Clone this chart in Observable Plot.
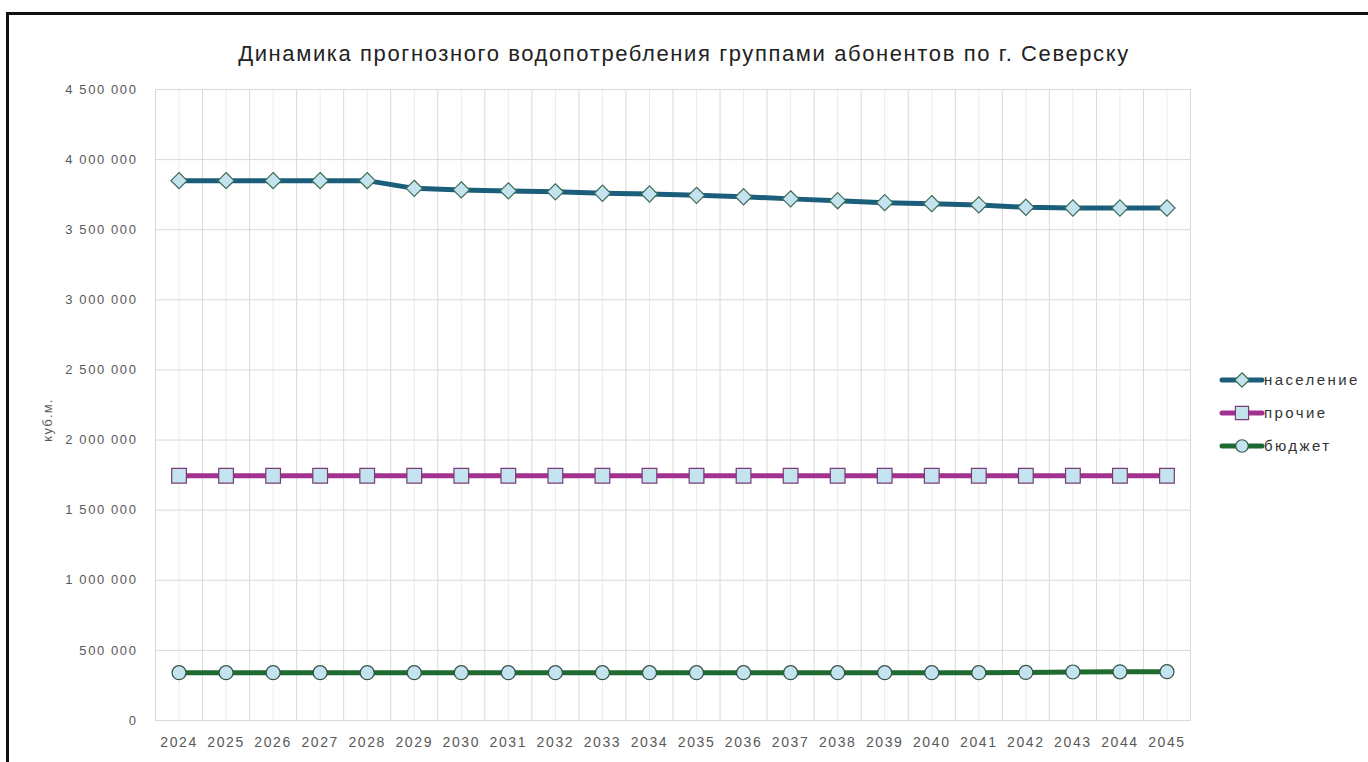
<!DOCTYPE html>
<html>
<head>
<meta charset="utf-8">
<script src="https://cdn.jsdelivr.net/npm/d3@7"></script>
<script src="https://cdn.jsdelivr.net/npm/@observablehq/plot@0.6"></script>
<style>
  html, body { margin: 0; padding: 0; background: #fff; overflow: hidden; }
  body { width: 1368px; height: 762px; position: relative; font-family: "Liberation Sans", Arial, sans-serif; }
  #frame { position: absolute; left: 6px; top: 12px; width: 1400px; height: 800px;
           border-top: 3px solid #111; border-left: 3px solid #111; box-sizing: border-box; }
  #title { position: absolute; top: 41px; left: 0; width: 1368px; text-align: center;
           font-size: 22px; letter-spacing: 1.6px; color: #222; }
  #chart { position: absolute; left: 0; top: 70px; }
  #legend { position: absolute; left: 1215px; top: 360px; }
  #ytitle { position: absolute; left: 47px; top: 420px; transform: translate(-50%, -50%) rotate(-90deg);
            font-size: 13px; letter-spacing: 1.2px; color: #595959; white-space: nowrap; }
</style>
</head>
<body>
<div id="frame"></div>
<div id="title">Динамика прогнозного водопотребления группами абонентов по г. Северску</div>
<div id="ytitle">куб.м.</div>
<div id="chart"></div>
<div id="legend"></div>
<script>
// ---- data ----
const years = [2024,2025,2026,2027,2028,2029,2030,2031,2032,2033,2034,2035,2036,2037,2038,2039,2040,2041,2042,2043,2044,2045];
const naselenie = [3850000,3850000,3850000,3850000,3850000,3795000,3784000,3777000,3770000,3760000,3755000,3745000,3735000,3720000,3707000,3693000,3686000,3677000,3660000,3655000,3655000,3655000];
const prochie = [1745000,1745000,1745000,1745000,1745000,1745000,1745000,1745000,1745000,1745000,1745000,1745000,1745000,1745000,1745000,1745000,1745000,1745000,1745000,1745000,1745000,1745000];
const byudzhet = [341000,341000,341000,341000,341000,341000,341000,341000,341000,341000,341000,341000,341000,341000,341000,341000,341000,341000,343000,346000,347000,348000];
const seriesNames = ["население", "прочие", "бюджет"];
const yTicks = [0,500000,1000000,1500000,2000000,2500000,3000000,3500000,4000000,4500000];

// ---- styles ----
const styles = {
  "население": {stroke: "#1b5e7b", symbol: "diamond2", r: 7.3, markStroke: "#3f6b58"},
  "прочие":    {stroke: "#a2318f", symbol: "square",   r: 8.3, markStroke: "#7b3a78"},
  "бюджет":    {stroke: "#1e6a30", symbol: "circle",   r: 7,   markStroke: "#35524a"}
};
const markerFill = "#c3e3ee";

const valuesBy = {"население": naselenie, "прочие": prochie, "бюджет": byudzhet};
const data = seriesNames.flatMap(s => years.map((yr, i) => ({series: s, year: yr, value: valuesBy[s][i]})));
const boundaries = years.map(y => y - 0.5).concat([years[years.length - 1] + 0.5]);

const fmt = d => d3.format(",")(d).replace(/,/g, " ");

const marks = [
  Plot.ruleX(years, {stroke: "#ececec", strokeWidth: 1}),
  Plot.ruleX(boundaries, {stroke: "#d9d9d9", strokeWidth: 1}),
  Plot.ruleY(yTicks, {stroke: "#d9d9d9", strokeWidth: 1}),
  Plot.frame({stroke: "#d9d9d9"}),
  Plot.axisY(yTicks, {tickSize: 0, tickPadding: 18, tickFormat: fmt, fontSize: 13, fill: "#595959", label: null}),
  Plot.axisX(years, {tickSize: 0, tickPadding: 17, tickFormat: d => String(d), fontSize: 14, fill: "#595959", label: null})
];
for (const s of seriesNames) {
  const st = styles[s];
  const d = data.filter(r => r.series === s);
  marks.push(Plot.line(d, {x: "year", y: "value", stroke: st.stroke, strokeWidth: 5, strokeLinejoin: "round"}));
}
for (const s of seriesNames) {
  const st = styles[s];
  const d = data.filter(r => r.series === s);
  marks.push(Plot.dot(d, {x: "year", y: "value", symbol: st.symbol, r: st.r, fill: markerFill, stroke: st.markStroke, strokeWidth: 1.2}));
}

const chart = Plot.plot({
  width: 1368,
  height: 692,
  marginTop: 19,
  marginBottom: 42,
  marginLeft: 155,
  marginRight: 178,
  style: {fontFamily: "'Liberation Sans', Arial, sans-serif", background: "transparent", overflow: "visible", letterSpacing: "1.6px"},
  x: {type: "linear", domain: [years[0] - 0.5, years[years.length - 1] + 0.5]},
  y: {domain: [0, 4500000]},
  marks
});
document.getElementById("chart").appendChild(chart);

// ---- legend ----
const lg = d3.select("#legend").append("svg").attr("width", 160).attr("height", 110)
  .style("font-family", "'Liberation Sans', Arial, sans-serif");
const symMap = {diamond2: d3.symbolDiamond2, square: d3.symbolSquare, circle: d3.symbolCircle};
seriesNames.forEach((s, i) => {
  const st = styles[s];
  const g = lg.append("g").attr("transform", `translate(0, ${20 + i * 33})`);
  g.append("line").attr("x1", 7).attr("x2", 47).attr("y1", 0).attr("y2", 0)
    .attr("stroke", st.stroke).attr("stroke-width", 5).attr("stroke-linecap", "round");
  g.append("path").attr("transform", "translate(27,0)")
    .attr("d", d3.symbol(symMap[st.symbol], Math.PI * st.r * st.r * 0.8)())
    .attr("fill", markerFill).attr("stroke", st.markStroke).attr("stroke-width", 1.2);
  g.append("text").attr("x", 49).attr("y", 0).attr("dy", "0.35em")
    .attr("font-size", 15).style("letter-spacing", "2.4px").attr("fill", "#333").text(s);
});
</script>
</body>
</html>
